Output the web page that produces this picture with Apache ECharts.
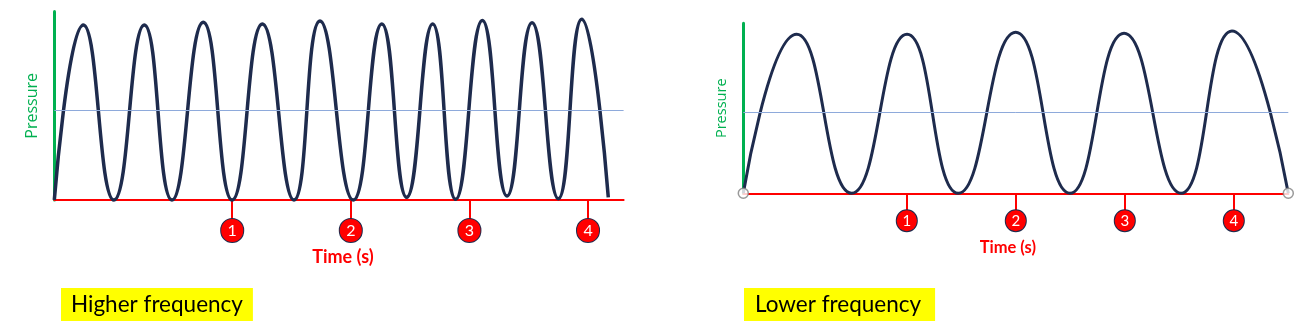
<!DOCTYPE html>
<html>
<head>
<meta charset="utf-8">
<script src="https://cdn.jsdelivr.net/npm/echarts@6/dist/echarts.min.js"></script>
<style>
  html, body { margin: 0; padding: 0; background: #ffffff; }
  #chart { width: 1301px; height: 335px; }
</style>
</head>
<body>
<div id="chart"></div>
<script>
// ---- data ----
const tickValues = [1, 2, 3, 4];
const midLevel = 1;

// Higher frequency wave: extrema (time s, pressure)
const hiTime = [-0.5, -0.255, 0.003, 0.259, 0.492, 0.756, 1.0, 1.254, 1.521, 1.74, 2.021, 2.261, 2.471, 2.69, 2.884, 3.109, 3.317, 3.528, 3.75, 3.947, 4.171];
const hiPressure = [0, 1.95, 0, 1.95, 0, 1.98, 0, 1.962, 0, 1.996, 0, 1.962, 0.03, 1.962, 0.007, 2.0, 0.045, 1.977, 0.015, 2.015, 0.03];

// Lower frequency wave: extrema (time s, pressure)
const loTime = [-0.5, -0.01, 0.494, 1.002, 1.472, 1.999, 2.497, 2.993, 3.516, 3.983, 4.5];
const loPressure = [0, 1.963, 0, 1.963, 0, 1.988, 0, 1.975, 0, 2.004, 0];
const loEnds = [-0.5, 4.5];

const titles = ['Higher frequency', 'Lower frequency'];
const xName = 'Time (s)';
const yName = 'Pressure';

// ---- styling ----
const RED = '#ff0000', GREEN = '#00b050', NAVY = '#1e2b4d', BLUE = '#8eaadb';

function xAxisCfg(gi, max, tickLen, margin, circ, numSize, nameSize, nameGap, namePad) {
  return {
    type: 'value', gridIndex: gi, min: -0.5, max: max,
    name: xName, nameLocation: 'middle', nameGap: nameGap, nameMoveOverlap: false,
    nameTextStyle: { color: RED, fontFamily: 'Lato', fontWeight: 'bold', fontSize: nameSize, padding: namePad },
    axisLine: { show: true, onZero: false, lineStyle: { color: RED, width: 2 } },
    axisTick: { show: true, customValues: tickValues, length: tickLen, lineStyle: { color: RED, width: 2 } },
    axisLabel: {
      show: true, customValues: tickValues, margin: margin,
      formatter: v => '{c|' + v + '}',
      rich: { c: {
        backgroundColor: RED, borderColor: NAVY, borderWidth: 1, borderRadius: circ / 2,
        width: circ, height: circ + 1, lineHeight: circ + 1, align: 'center',
        color: '#ffffff', fontFamily: 'Lato', fontWeight: 'normal', fontSize: numSize
      } }
    },
    splitLine: { show: false }
  };
}
function yAxisCfg(gi, nameSize, nameGap) {
  return {
    type: 'value', gridIndex: gi, min: 0, max: 2.1,
    name: yName, nameLocation: 'middle', nameRotate: 90, nameGap: nameGap, nameMoveOverlap: false,
    nameTextStyle: { color: GREEN, fontFamily: 'Open Sans', fontSize: nameSize },
    axisLine: { show: true, onZero: false, lineStyle: { color: GREEN, width: 3 } },
    axisTick: { show: false }, axisLabel: { show: false }, splitLine: { show: false }
  };
}
function midLine() {
  return { silent: true, symbol: 'none', label: { show: false },
    lineStyle: { color: BLUE, width: 1, type: 'solid' }, data: [{ yAxis: midLevel }] };
}

const chart = echarts.init(document.getElementById('chart'), null, { renderer: 'canvas' });
chart.setOption({
  animation: false,
  backgroundColor: '#ffffff',
  title: [
    { text: titles[0], left: 61, top: 288, backgroundColor: '#ffff00', padding: [4, 10, 3, 10],
      textStyle: { fontFamily: 'Lato', fontSize: 22.5, fontWeight: 'normal', color: '#000000', lineHeight: 26 } },
    { text: titles[1], left: 744, top: 288, backgroundColor: '#ffff00', padding: [4, 14, 3, 11],
      textStyle: { fontFamily: 'Lato', fontSize: 22.5, fontWeight: 'normal', color: '#000000', lineHeight: 26 } }
  ],
  grid: [
    { left: 54.3, top: 11.6, width: 569.3, height: 188.4, outerBoundsMode: 'none', containLabel: false },
    { left: 743.3, top: 23.2, width: 545, height: 170.1, outerBoundsMode: 'none', containLabel: false }
  ],
  xAxis: [
    xAxisCfg(0, 4.3, 19, 19, 22, 16, 18, 48, [0, 0, 0, 8]),
    xAxisCfg(1, 4.5, 17, 17, 20, 15, 16.5, 46, [0, 16, 0, 0])
  ],
  yAxis: [ yAxisCfg(0, 16, 14), yAxisCfg(1, 14.5, 14) ],
  series: [
    { type: 'line', xAxisIndex: 0, yAxisIndex: 0, smooth: 0.5, showSymbol: false, clip: false, z: 3,
      lineStyle: { color: NAVY, width: 3.5 },
      data: hiTime.map((t, i) => [t, hiPressure[i]]), markLine: midLine() },
    { type: 'line', xAxisIndex: 1, yAxisIndex: 1, smooth: 0.5, showSymbol: false, clip: false, z: 3,
      lineStyle: { color: NAVY, width: 3 },
      data: loTime.map((t, i) => [t, loPressure[i]]), markLine: midLine() },
    { type: 'scatter', xAxisIndex: 1, yAxisIndex: 1, clip: false, z: 5, symbol: 'circle', symbolSize: 10,
      itemStyle: { color: '#ffffff', borderColor: '#7f7f7f', borderWidth: 1.5 },
      data: loEnds.map(t => [t, 0]) }
  ]
});
</script>
</body>
</html>
